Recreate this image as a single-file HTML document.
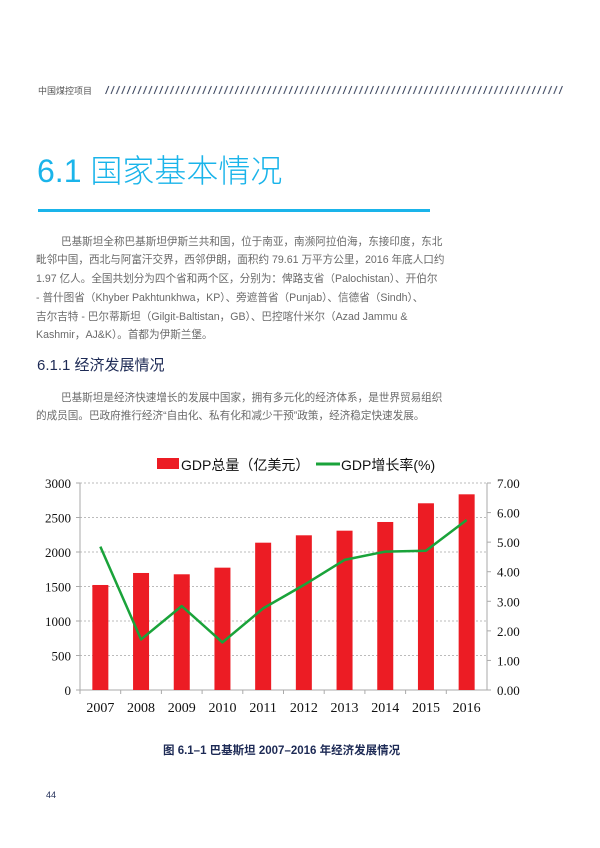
<!DOCTYPE html>
<html><head><meta charset="utf-8">
<style>
html,body{margin:0;padding:0;background:#fff;}
body{width:600px;height:848px;position:relative;overflow:hidden;font-family:"Liberation Sans","Noto Sans CJK SC",sans-serif;}
.abs{position:absolute;white-space:nowrap;}
.p{font-size:10.6px;color:#6a6a6a;left:36px;}
</style></head><body>
<div class="abs" style="left:38px;top:84px;font-size:9px;color:#555;">中国煤控项目</div>
<svg class="abs" style="left:105px;top:84px" width="458" height="12">
<defs><pattern id="h" width="5.4" height="12" patternUnits="userSpaceOnUse"><line x1="0.6" y1="10" x2="3.8" y2="2" stroke="#2a3550" stroke-width="1"/></pattern></defs>
<rect width="458" height="12" fill="url(#h)"/></svg>
<div class="abs" style="left:37px;top:146px;font-size:32px;color:#1ab4ea;font-weight:300;">6.1 国家基本情况</div>
<div class="abs" style="left:38px;top:209px;width:392px;height:3px;background:#1ab4ea;"></div>
<div class="abs p" style="top:234px;left:61px;">巴基斯坦全称巴基斯坦伊斯兰共和国，位于南亚，南濒阿拉伯海，东接印度，东北</div>
<div class="abs p" style="top:252px;">毗邻中国，西北与阿富汗交界，西邻伊朗，面积约 79.61 万平方公里，2016 年底人口约</div>
<div class="abs p" style="top:271px;">1.97 亿人。全国共划分为四个省和两个区，分别为：俾路支省（Palochistan）、开伯尔</div>
<div class="abs p" style="top:290px;">- 普什图省（Khyber Pakhtunkhwa，KP）、旁遮普省（Punjab）、信德省（Sindh）、</div>
<div class="abs p" style="top:309px;">吉尔吉特 - 巴尔蒂斯坦（Gilgit-Baltistan，GB）、巴控喀什米尔（Azad Jammu &amp;</div>
<div class="abs p" style="top:327px;">Kashmir，AJ&amp;K）。首都为伊斯兰堡。</div>
<div class="abs" style="left:37px;top:354px;font-size:15px;color:#1d2a55;">6.1.1 经济发展情况</div>
<div class="abs p" style="top:390px;left:61px;">巴基斯坦是经济快速增长的发展中国家，拥有多元化的经济体系，是世界贸易组织</div>
<div class="abs p" style="top:408px;">的成员国。巴政府推行经济“自由化、私有化和减少干预”政策，经济稳定快速发展。</div>

<svg id="chart" class="abs" style="left:0;top:450px" width="600" height="280"></svg>

<div class="abs" style="left:163px;top:742px;font-size:11.5px;color:#1d2a55;font-weight:bold;">图 6.1–1  巴基斯坦 2007–2016 年经济发展情况</div>
<div class="abs" style="left:46px;top:790px;font-size:9px;color:#1d2a55;">44</div>

<script>
const years = ["2007","2008","2009","2010","2011","2012","2013","2014","2015","2016"];
const gdp = [1522,1696,1677,1773,2135,2242,2309,2435,2706,2836];
const growth = [4.85,1.71,2.84,1.61,2.76,3.55,4.40,4.68,4.71,5.75];
const leftTicks = [0,500,1000,1500,2000,2500,3000];
const rightTicks = ["0.00","1.00","2.00","3.00","4.00","5.00","6.00","7.00"];

const svg = document.getElementById('chart');
const NS = 'http://www.w3.org/2000/svg';
const X0 = 80, X1 = 487, Y0 = 240, Y1 = 33;
const band = (X1 - X0) / years.length;
const yL = v => Y0 - v / 3000 * (Y0 - Y1);
const yR = v => Y0 - v / 7 * (Y0 - Y1);
const xC = i => X0 + band * (i + 0.5);
function mk(tag, attrs, parent) {
  const e = document.createElementNS(NS, tag);
  for (const k in attrs) e.setAttribute(k, attrs[k]);
  (parent || svg).appendChild(e);
  return e;
}
const serif = '"Liberation Serif","Noto Serif CJK SC",serif';
leftTicks.forEach(v => {
  const y = yL(v);
  if (v > 0) {
    const g = mk('line', {x1: X0, x2: X1, y1: y, y2: y, stroke: '#bbb', 'stroke-dasharray': '2,2'});
    
    
  }
  mk('line', {x1: X0 - 4, x2: X0, y1: y, y2: y, stroke: '#aaa'});
  const t = mk('text', {x: X0 - 9, y: y + 5, 'text-anchor': 'end', 'font-size': 13, 'font-family': serif, fill: '#111'});
  t.textContent = v;
  
  
});
rightTicks.forEach(s => {
  const y = yR(parseFloat(s));
  mk('line', {x1: X1, x2: X1 + 4, y1: y, y2: y, stroke: '#aaa'});
  const t = mk('text', {x: X1 + 10, y: y + 5, 'font-size': 13, 'font-family': serif, fill: '#111'});
  t.textContent = s;
  
  
});
mk('line', {x1: X0, x2: X0, y1: Y1, y2: Y0, stroke: '#aaa'});
mk('line', {x1: X1, x2: X1, y1: Y1, y2: Y0, stroke: '#aaa'});
mk('line', {x1: X0, x2: X1, y1: Y0, y2: Y0, stroke: '#aaa'});
years.forEach((yr, i) => {
  const x = X0 + band * i;
  mk('line', {x1: x, x2: x, y1: Y0, y2: Y0 + 4, stroke: '#aaa'});
  const b = mk('rect', {x: xC(i) - 8, y: yL(gdp[i]), width: 16, height: Y0 - yL(gdp[i]), fill: '#ec1c24'});
  
  
  const t = mk('text', {x: xC(i), y: Y0 + 22, 'text-anchor': 'middle', 'font-size': 14, 'font-family': serif, fill: '#111'});
  t.textContent = yr;
  
  
});
const line = mk('polyline', {points: growth.map((v, i) => xC(i) + ',' + yR(v)).join(' '), fill: 'none', stroke: '#1aa33a', 'stroke-width': 2.5, 'stroke-linejoin': 'round'});


const lg = mk('g', {});


mk('rect', {x: 157, y: 8, width: 22, height: 11, fill: '#ec1c24'}, lg);
const l1 = mk('text', {x: 181, y: 20, 'font-size': 14, fill: '#111', 'font-family': '"Liberation Sans","Noto Sans CJK SC",sans-serif'}, lg);
l1.textContent = 'GDP总量（亿美元）';


mk('line', {x1: 316, x2: 340, y1: 14, y2: 14, stroke: '#1aa33a', 'stroke-width': 3}, lg);
const l2 = mk('text', {x: 341, y: 20, 'font-size': 14, fill: '#111', 'font-family': '"Liberation Sans","Noto Sans CJK SC",sans-serif'}, lg);
l2.textContent = 'GDP增长率(%)';


</script>
</body></html>
